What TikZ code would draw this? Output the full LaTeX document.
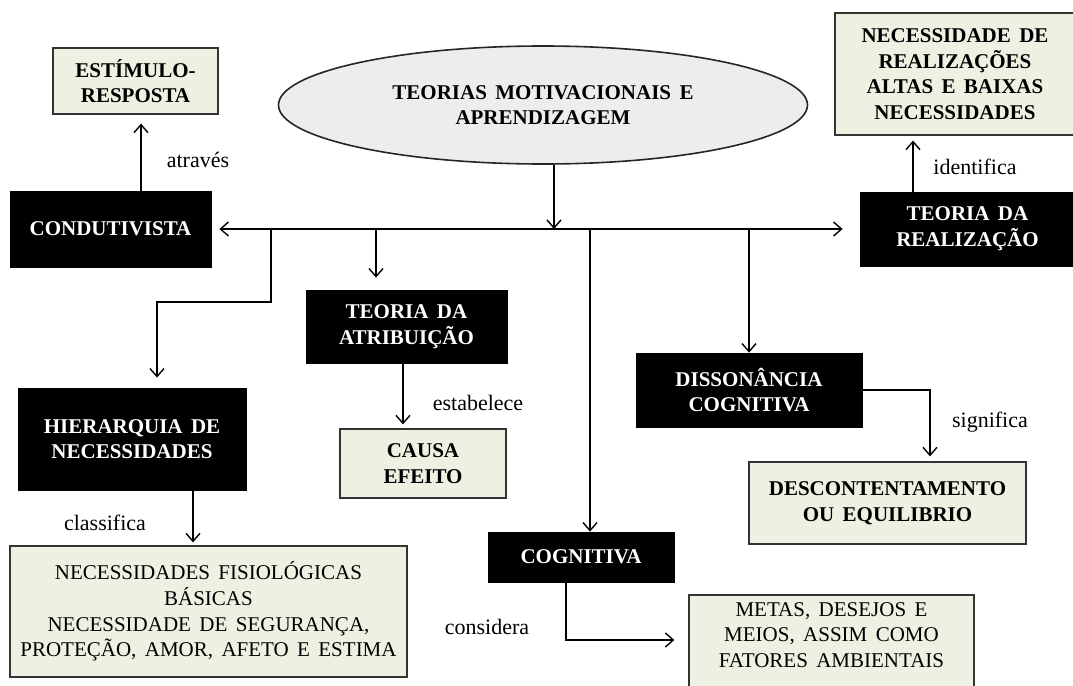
\documentclass[tikz,border=0pt]{standalone}
\usepackage{fontspec}
\setmainfont[WordSpace=1.6]{Liberation Serif}
\usepackage{tikz}
\usetikzlibrary{shapes.geometric,arrows.meta}
\definecolor{caixa}{RGB}{238,240,226}
\definecolor{nuvem}{RGB}{237,237,237}
\tikzset{
  tema/.style={ draw=black, fill=black, text=white, font=\bfseries, align=center }
}
\tikzset{
  conceito/.style={ draw=black!80, fill=caixa, align=center, line width=0.6pt }
}
\tikzset{
  conceitoB/.style={ conceito, font=\bfseries }
}
\tikzset{
  rotulo/.style={ font=\fontsize{11}{13}\selectfont }
}
\tikzset{
  linha/.style={ line width=0.7pt, >={Straight Barb[length=4pt,width=7pt]} }
}

\begin{document}
\fontsize{10.5}{12.8}\selectfont
\begin{tikzpicture}[x=0.5pt, y=-0.5pt]
      \useasboundingbox (0,0) rectangle (1073,686);
      \clip (0,0) rectangle (1073,686);

      \node[ellipse, draw=black!85, fill=nuvem, line width=0.8pt, minimum width=264.5pt,
            minimum height=59pt, font=\bfseries, align=center] (teorias) at (543,105)
            {TEORIAS MOTIVACIONAIS E\\APRENDIZAGEM};

      \node[conceitoB, minimum width=82.5pt, minimum height=33pt] (estimulo) at (135.5,81) {ESTÍMULO-\\RESPOSTA};
      \node[tema, minimum width=100.5pt, minimum height=38pt] (condutivista) at (110.5,229) {CONDUTIVISTA};
      \node[conceitoB, minimum width=120pt, minimum height=61pt, inner ysep=1pt] (necreal) at (955,74)
            {NECESSIDADE DE\\REALIZAÇÕES\\ALTAS E BAIXAS\\NECESSIDADES};
      \node[tema, minimum width=107.5pt, minimum height=37pt] (realizacao) at (967.5,229) {TEORIA DA\\REALIZAÇÃO};

      \node[tema, minimum width=114pt, minimum height=51pt] (hierarquia) at (132,439) {HIERARQUIA DE\\NECESSIDADES};
      \node[conceito, minimum width=198.5pt, minimum height=65.5pt] (fisio) at (208.5,611.5)
            {NECESSIDADES FISIOLÓGICAS\\BÁSICAS\\NECESSIDADE DE SEGURANÇA,\\PROTEÇÃO, AMOR, AFETO E ESTIMA};

      \node[tema, minimum width=100.5pt, minimum height=36.5pt] (atribuicao) at (406.5,326.5) {TEORIA DA\\ATRIBUIÇÃO};
      \node[conceitoB, minimum width=83pt, minimum height=34.5pt] (causa) at (423,463.5) {CAUSA\\EFEITO};

      \node[tema, minimum width=113pt, minimum height=37pt] (dissonancia) at (749,390) {DISSONÂNCIA\\COGNITIVA};
      \node[conceitoB, minimum width=138.5pt, minimum height=41pt] (descont) at (887.5,503) {DESCONTENTAMENTO\\OU EQUILIBRIO};

      \node[tema, minimum width=93pt, minimum height=25pt] (cognitiva) at (581,557) {COGNITIVA};
      \node[conceito, minimum width=142.5pt, minimum height=52.5pt, inner ysep=0.5pt] (metas) at (831.5,647.5)
            {METAS, DESEJOS E\\MEIOS, ASSIM COMO\\FATORES AMBIENTAIS\\ \mbox{}};

      % pontos de ramificacao na linha principal
      \coordinate (brA) at (271,229);
      \coordinate (brB) at (376,229);
      \coordinate (hub) at (554,229);
      \coordinate (brC) at (590,229);
      \coordinate (brD) at (749,229);

      \draw[linha, ->] (teorias.south -| hub) -- (hub);
      \draw[linha, <->, shorten <=4pt, shorten >=8.5pt] (condutivista.east) -- (realizacao.west);

      \draw[linha, ->, shorten >=5pt] (brA) -- ++(0,73) -| ([xshift=12.5pt]hierarquia.north);
      \draw[linha, ->, shorten >=6pt] (brB) -- (brB |- atribuicao.north);
      \draw[linha, ->] (brC) -- (brC |- cognitiva.north);
      \draw[linha, ->] (brD) -- (dissonancia.north);

      \draw[linha, ->, shorten >=4.5pt] ([xshift=15.25pt]condutivista.north) -- ([xshift=15.25pt]condutivista.north |- estimulo.south);
      \node[rotulo] (atraves) at (198,160) {através};

      \draw[linha, ->, shorten >=2.5pt] ([xshift=-27.25pt]realizacao.north) -- ([xshift=-27.25pt]realizacao.north |- necreal.south);
      \node[rotulo] (identifica) at (975,167) {identifica};

      \draw[linha, ->, shorten >=1.5pt] ([xshift=30.5pt]hierarquia.south) -- ([xshift=30.5pt]hierarquia.south |- fisio.north);
      \node[rotulo] (classifica) at (105,523) {classifica};

      \draw[linha, ->, shorten >=2pt] ([xshift=-1.75pt]atribuicao.south) -- ([xshift=-1.75pt]atribuicao.south |- causa.north);
      \node[rotulo] (estabelece) at (478,403) {estabelece};

      \draw[linha, ->, shorten >=2.5pt] (dissonancia.east) -| ([xshift=21.25pt]descont.north);
      \node[rotulo] (significa) at (990,422) {significa};

      \draw[linha, ->, shorten >=7pt] ([xshift=-7.5pt]cognitiva.south) |- ([yshift=3.75pt]metas.west);
      \node[rotulo] (considera) at (487,627) {considera};
    \end{tikzpicture}
\end{document}
